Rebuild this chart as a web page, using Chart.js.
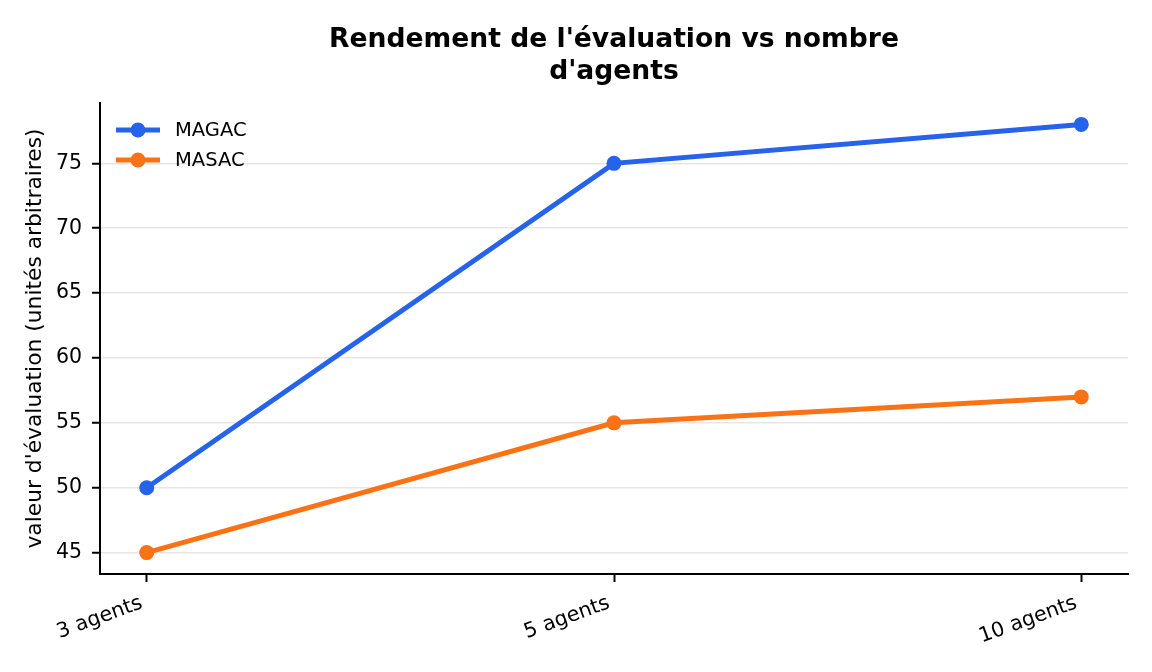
<!DOCTYPE html>
<html>
<head>
<meta charset="utf-8">
<script src="https://cdn.jsdelivr.net/npm/chart.js@4"></script>
<style>
  html, body { margin: 0; padding: 0; background: #fff; }
  #wrap { width: 1152px; height: 672px; }
</style>
</head>
<body>
<div id="wrap"><canvas id="chart"></canvas></div>
<script>
const titleLines = ["Rendement de l'évaluation vs nombre", "d'agents"];
const categories = ["3 agents", "5 agents", "10 agents"];
const magacValues = [50, 75, 78];
const masacValues = [45, 55, 57];
const yTicks = [45, 50, 55, 60, 65, 70, 75];
const yLabel = "valeur d'évaluation (unités arbitraires)";

const FONT = "'DejaVu Sans', sans-serif";
const BLUE = "#2563eb";
const ORANGE = "#f97316";

const toPoints = vals => vals.map((y, i) => ({ x: i, y }));

// title centred over the plot area
const titlePlugin = {
  id: "mplTitle",
  afterDraw(chart) {
    const { ctx, chartArea } = chart;
    ctx.save();
    ctx.font = "bold 26.6px " + FONT;
    ctx.fillStyle = "#000";
    ctx.textAlign = "center";
    ctx.textBaseline = "middle";
    const cx = (chartArea.left + chartArea.right) / 2;
    titleLines.forEach((t, i) => ctx.fillText(t, cx, 40 + i * 32));
    ctx.restore();
  }
};

// matplotlib-like legend in the upper left corner
const legendPlugin = {
  id: "mplLegend",
  afterDraw(chart) {
    const { ctx, chartArea } = chart;
    ctx.save();
    ctx.font = "19.5px " + FONT;
    ctx.textBaseline = "middle";
    chart.data.datasets.forEach((ds, i) => {
      const y = chartArea.top + 27 + i * 30;
      const x0 = chartArea.left + 16;
      ctx.strokeStyle = ds.borderColor;
      ctx.lineWidth = 5;
      ctx.beginPath();
      ctx.moveTo(x0, y);
      ctx.lineTo(x0 + 44, y);
      ctx.stroke();
      ctx.fillStyle = ds.borderColor;
      ctx.beginPath();
      ctx.arc(x0 + 22, y, 7.5, 0, Math.PI * 2);
      ctx.fill();
      ctx.fillStyle = "#000";
      ctx.fillText(ds.label, x0 + 59, y + 1);
    });
    ctx.restore();
  }
};

const lineStyle = color => ({
  borderColor: color,
  backgroundColor: color,
  borderWidth: 5,
  pointRadius: 7.5,
  pointHoverRadius: 7.5,
  pointBorderWidth: 0,
  tension: 0
});

new Chart(document.getElementById("chart"), {
  type: "line",
  data: {
    datasets: [
      { label: "MAGAC", data: toPoints(magacValues), ...lineStyle(BLUE) },
      { label: "MASAC", data: toPoints(masacValues), ...lineStyle(ORANGE) }
    ]
  },
  options: {
    responsive: true,
    maintainAspectRatio: false,
    animation: false,
    layout: { padding: { top: 103, right: 24, left: 0, bottom: 0 } },
    plugins: {
      legend: { display: false },
      title: { display: false },
      tooltip: { enabled: false }
    },
    scales: {
      x: {
        type: "linear",
        min: -0.1,
        max: 2.1,
        afterBuildTicks: axis => { axis.ticks = categories.map((c, i) => ({ value: i })); },
        afterFit: axis => { axis.height = 98; },
        border: { display: true, color: "#000", width: 2 },
        grid: { drawOnChartArea: false, drawTicks: true, tickLength: 8, tickColor: "#000", tickWidth: 2 },
        ticks: {
          autoSkip: false,
          minRotation: 20,
          maxRotation: 20,
          padding: 9,
          labelOffset: -5,
          color: "#000",
          font: { family: FONT, size: 20.5 },
          callback: v => categories[v]
        }
      },
      y: {
        min: 43.35,
        max: 79.65,
        afterBuildTicks: axis => { axis.ticks = yTicks.map(v => ({ value: v })); },
        afterFit: axis => { axis.width = 100; },
        border: { display: true, color: "#000", width: 2 },
        grid: { color: "#e6e6e6", lineWidth: 1.5, drawTicks: true, tickLength: 8, tickColor: "#000", tickWidth: 2 },
        ticks: {
          padding: 10,
          color: "#000",
          font: { family: FONT, size: 20.5 }
        },
        title: {
          display: true,
          text: yLabel,
          color: "#000",
          font: { family: FONT, size: 21.8 },
          padding: { top: 22, bottom: 0 }
        }
      }
    }
  },
  plugins: [titlePlugin, legendPlugin]
});
</script>
</body>
</html>
